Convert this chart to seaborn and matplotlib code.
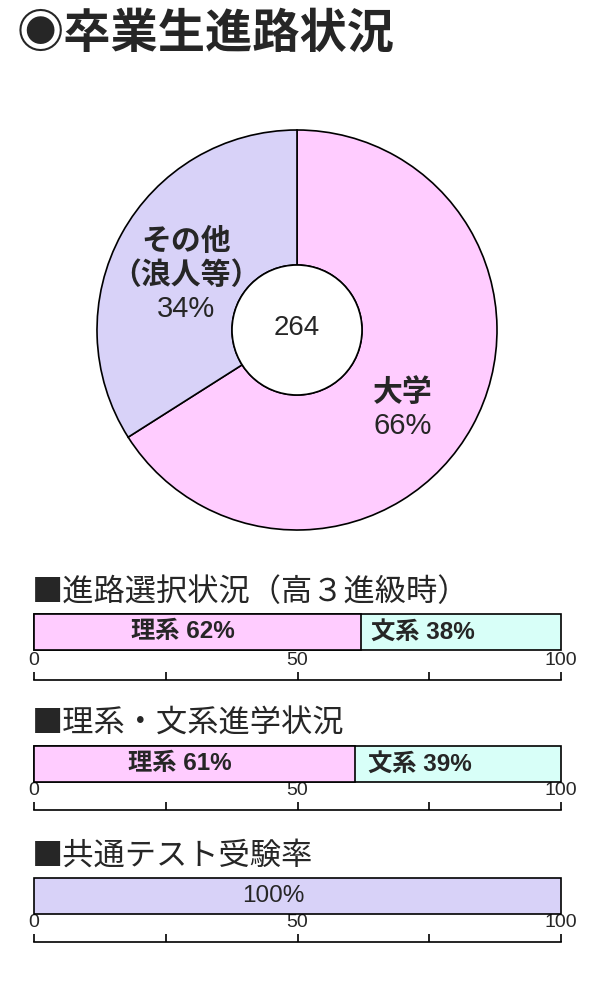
import numpy as np
import seaborn as sns
import matplotlib.pyplot as plt
from matplotlib import font_manager

# data
title = "◉卒業生進路状況"
total_grads = 264
pie_labels = ["大学", "その他\n（浪人等）"]
pie_values = [66, 34]

sections = ["■進路選択状況（高３進級時）", "■理系・文系進学状況", "■共通テスト受験率"]
seg_names = [["理系", "文系"], ["理系", "文系"], [""]]
seg_values = [[62, 38], [61, 39], [100]]
tick_values = [0, 25, 50, 75, 100]
tick_labels = ["0", "", "50", "", "100"]

pink = "#FFCCFF"
lavender = "#D8D2F8"
mint = "#D8FFF8"

sns.set_style("white")
plt.rcParams['font.family'] = ['Noto Sans CJK JP', 'DejaVu Sans']

installed = {f.name for f in font_manager.fontManager.ttflist}
num_font = ['Liberation Sans', 'Noto Sans CJK JP']
tick_font = 'Liberation Sans Narrow' if 'Liberation Sans Narrow' in installed else 'Liberation Sans'
tick_size = 16.5 if tick_font == 'Liberation Sans Narrow' else 14

fig = plt.figure(figsize=(6, 10), dpi=100)

fig.text(17 / 600, 1 - 34 / 1000, title, fontsize=34, fontweight='bold', va='center', ha='left')

# donut
ax = fig.add_axes([(297 - 210) / 600, 1 - (330 + 210) / 1000, 420 / 600, 420 / 1000])
wedges, _ = ax.pie(pie_values, colors=[pink, lavender], startangle=90, counterclock=False,
                   radius=1, wedgeprops=dict(width=0.675, edgecolor='black', linewidth=1.2))
ax.add_patch(plt.Circle((0, 0), 0.325, facecolor='white', edgecolor='black', linewidth=1.2))
ax.text(0, 0.01, str(total_grads), ha='center', va='center', fontsize=20, family=num_font)
for w, lab, val, r, turn in zip(wedges, pie_labels, pie_values, [0.66, 0.62], [-8, 2.5]):
    mid = np.deg2rad((w.theta1 + w.theta2) / 2 + turn)
    x, y = r * np.cos(mid), r * np.sin(mid)
    lines = lab.split("\n")
    n = len(lines) + 1
    step = 0.168
    top = y + step * n / 2
    for i, line in enumerate(lines):
        ax.text(x, top - step * (i + 0.5), line, ha='center', va='center', fontsize=21.5, fontweight='bold')
    ax.text(x, top - step * (n - 0.5), f"{val}%", ha='center', va='center', fontsize=21, family=num_font)
ax.set_xlim(-1.05, 1.05)
ax.set_ylim(-1.05, 1.05)
ax.set_aspect('equal')
ax.axis('off')

# stacked bars
bar_tops = [614, 746, 878]
axis_lines = [680, 810, 942]
for k in range(3):
    fig.text(32 / 600, 1 - (bar_tops[k] - 22) / 1000, sections[k], fontsize=22.5, va='center', ha='left')
    h = axis_lines[k] - bar_tops[k]
    bax = fig.add_axes([34 / 600, 1 - axis_lines[k] / 1000, 527 / 600, h / 1000])
    vals = seg_values[k]
    cum = np.cumsum(vals)
    colors = [pink, mint] if len(vals) == 2 else [lavender]
    # draw the longest first, then shorter ones over it
    for c, col in zip(cum[::-1], colors[::-1]):
        sns.barplot(x=[c], y=["a"], orient='h', color=col, saturation=1, width=1,
                    edgecolor='black', linewidth=1.2, errorbar=None, ax=bax)
    for p in bax.patches:
        p.set_clip_on(False)
    left = 0
    for name, v in zip(seg_names[k], vals):
        txt = f"{name} {v}%" if name else f"{v}%"
        bax.text((left + v / 2) * 0.91, 0, txt, ha='center', va='center', fontsize=17.5,
                 fontweight='bold' if name else 'normal', family=num_font)
        left += v
    bar_px = 36
    bax.set_ylim(0.5 + (h - bar_px) / bar_px, -0.5)
    bax.set_xlim(0, 100)
    bax.set_xticks(tick_values)
    bax.set_xticklabels(tick_labels, family=tick_font, fontsize=tick_size)
    bax.set_yticks([])
    bax.set_ylabel("")
    bax.set_xlabel("")
    for s in ['top', 'left', 'right']:
        bax.spines[s].set_visible(False)
    bax.spines['bottom'].set_linewidth(1.2)
    bax.spines['bottom'].set_color('black')
    bax.tick_params(axis='x', direction='in', length=6, width=1.2, color='black',
                    pad=-20, bottom=True)
    bax.patch.set_alpha(0)

plt.savefig("out.png", dpi=100)
